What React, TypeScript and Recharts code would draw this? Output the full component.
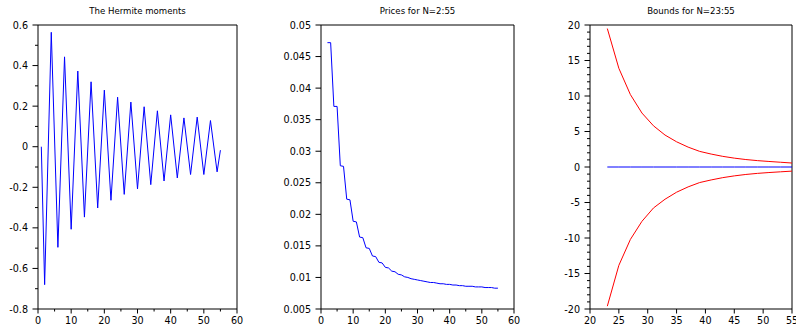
import React from "react";
import { LineChart, Line, XAxis, YAxis, ReferenceLine } from "recharts";

// --- Hermite moments (only the visible vertices) ---
const hermiteN = [1, 2, 4, 6, 8, 10, 12, 14, 16, 18, 20, 22, 24, 26, 28, 30, 32, 34, 36, 38, 40, 42, 44, 46, 48, 50, 52, 54, 55];
const hermiteVal = [
  0, -0.68, 0.564, -0.496, 0.443, -0.407, 0.373, -0.347, 0.32, -0.302, 0.279, -0.264, 0.244, -0.235,
  0.22, -0.208, 0.197, -0.187, 0.177, -0.169, 0.157, -0.154, 0.142, -0.137, 0.146, -0.137, 0.129, -0.124, -0.017,
];

// --- Prices for N = 2..55 ---
const priceN = Array.from({ length: 54 }, (_, i) => i + 2);
const priceVal = [
  0.0472, 0.0472, 0.0371, 0.0371, 0.0277, 0.0276, 0.0224, 0.0223, 0.0189, 0.0188,
  0.0164, 0.0163, 0.0147, 0.0146, 0.0134, 0.0133, 0.0124, 0.0123, 0.0116, 0.0115,
  0.011, 0.0109, 0.0105, 0.0104, 0.0101, 0.01, 0.0098, 0.0097, 0.0096, 0.0095,
  0.0094, 0.0093, 0.0092, 0.0092, 0.0091, 0.009, 0.009, 0.0089, 0.0089, 0.0088,
  0.0088, 0.0087, 0.0087, 0.0086, 0.0086, 0.0086, 0.0085, 0.0085, 0.0085, 0.0084,
  0.0084, 0.0084, 0.0083, 0.0083,
];

// --- Bounds for N = 23:2:55 ---
const boundN = [23, 25, 27, 29, 31, 33, 35, 37, 39, 41, 43, 45, 47, 49, 51, 53, 55];
const boundUpper = [19.5, 13.9, 10.2, 7.6, 5.8, 4.5, 3.55, 2.8, 2.2, 1.82, 1.5, 1.25, 1.05, 0.9, 0.78, 0.67, 0.56];
const boundLower = [-19.6, -13.85, -10.2, -7.65, -5.77, -4.54, -3.55, -2.8, -2.19, -1.82, -1.5, -1.25, -1.05, -0.9, -0.78, -0.68, -0.58];
const boundMid = boundN.map(() => 0);

// ticks
const hermiteXTicks = [0, 5, 10, 15, 20, 25, 30, 35, 40, 45, 50, 55, 60];
const hermiteYTicks = [-0.8, -0.7, -0.6, -0.5, -0.4, -0.3, -0.2, -0.1, 0, 0.1, 0.2, 0.3, 0.4, 0.5, 0.6];
const priceXTicks = [0, 5, 10, 15, 20, 25, 30, 35, 40, 45, 50, 55, 60];
const priceYTicks = [0.005, 0.01, 0.015, 0.02, 0.025, 0.03, 0.035, 0.04, 0.045, 0.05];
const boundXTicks = [20, 25, 30, 35, 40, 45, 50, 55];
const boundYTicks = Array.from({ length: 41 }, (_, i) => i - 20);

const FONT = "'DejaVu Sans', sans-serif";
const FS = 9.6;

const hermiteData = hermiteN.map((n, i) => ({ n, v: hermiteVal[i] }));
const priceData = priceN.map((n, i) => ({ n, v: priceVal[i] }));
const boundData = boundN.map((n, i) => ({ n, up: boundUpper[i], lo: boundLower[i], mid: boundMid[i] }));

const near = (a: number, b: number) => Math.abs(a - b) < 1e-9;

function makeYTick(isMajor: (v: number) => boolean, fmt: (v: number) => string) {
  return (props: any) => {
    const { x, y, payload } = props;
    const v = payload.value as number;
    if (!isMajor(v)) {
      return <line x1={x - 3} x2={x} y1={y} y2={y} stroke="#000" strokeWidth={1} />;
    }
    return (
      <g>
        <line x1={x - 5.5} x2={x} y1={y} y2={y} stroke="#000" strokeWidth={1} />
        <text x={x - 10} y={y} textAnchor="end" dominantBaseline="central" fontSize={FS} fontFamily={FONT} fill="#000">
          {fmt(v)}
        </text>
      </g>
    );
  };
}

function makeXTick(isMajor: (v: number) => boolean) {
  return (props: any) => {
    const { x, y, payload } = props;
    const v = payload.value as number;
    if (!isMajor(v)) {
      return <line x1={x} x2={x} y1={y} y2={y + 2.5} stroke="#000" strokeWidth={1} />;
    }
    return (
      <g>
        <line x1={x} x2={x} y1={y} y2={y + 4.5} stroke="#000" strokeWidth={1} />
        <text x={x} y={y + 15} textAnchor="middle" fontSize={FS} fontFamily={FONT} fill="#000">
          {String(v)}
        </text>
      </g>
    );
  };
}

const fmtNum = (v: number) => String(Math.round(v * 10000) / 10000);

function Title({ left, width, text }: { left: number; width: number; text: string }) {
  return (
    <div
      style={{
        position: "absolute",
        left,
        top: 5,
        width,
        textAlign: "center",
        fontFamily: FONT,
        fontSize: 8.6,
        lineHeight: "12px",
        color: "#000",
        whiteSpace: "nowrap",
      }}
    >
      {text}
    </div>
  );
}

const axisCommon = { tickSize: 0, tickMargin: 0, tickLine: false, interval: 0 as const, stroke: "#000", allowDataOverflow: true };

export default function App() {
  return (
    <div style={{ position: "absolute", left: 0, top: 0, width: 796, height: 325, background: "#fff", overflow: "hidden" }}>
      {/* Panel 1 */}
      <div style={{ position: "absolute", left: 0, top: 0 }}>
        <LineChart width={265} height={325} data={hermiteData} margin={{ top: 25, right: 28, bottom: 0, left: 0 }}>
          <XAxis
            dataKey="n"
            type="number"
            domain={[0, 60]}
            ticks={hermiteXTicks}
            height={16}
            {...axisCommon}
            tick={makeXTick((v) => v % 10 === 0)}
          />
          <YAxis
            type="number"
            domain={[-0.8, 0.6]}
            ticks={hermiteYTicks}
            width={38}
            {...axisCommon}
            tick={makeYTick((v) => near(Math.round(v * 10) % 2, 0), fmtNum)}
          />
          <ReferenceLine y={0.6} stroke="#000" />
          <ReferenceLine x={60} stroke="#000" />
          <Line dataKey="v" stroke="#0000ff" strokeWidth={1} dot={false} isAnimationActive={false} />
        </LineChart>
        <Title left={38} width={199} text="The Hermite moments" />
      </div>

      {/* Panel 2 */}
      <div style={{ position: "absolute", left: 265, top: 0 }}>
        <LineChart width={265} height={325} data={priceData} margin={{ top: 25, right: 16, bottom: 0, left: 0 }}>
          <XAxis
            dataKey="n"
            type="number"
            domain={[0, 60]}
            ticks={priceXTicks}
            height={16}
            {...axisCommon}
            tick={makeXTick((v) => v % 10 === 0)}
          />
          <YAxis
            type="number"
            domain={[0.005, 0.05]}
            ticks={priceYTicks}
            width={56}
            {...axisCommon}
            tick={makeYTick(() => true, fmtNum)}
          />
          <ReferenceLine y={0.05} stroke="#000" />
          <ReferenceLine x={60} stroke="#000" />
          <Line dataKey="v" stroke="#0000ff" strokeWidth={1} dot={false} isAnimationActive={false} />
        </LineChart>
        <Title left={56} width={193} text="Prices for N=2:55" />
      </div>

      {/* Panel 3 */}
      <div style={{ position: "absolute", left: 530, top: 0 }}>
        <LineChart width={266} height={325} data={boundData} margin={{ top: 25, right: 4, bottom: 0, left: 0 }}>
          <XAxis
            dataKey="n"
            type="number"
            domain={[20, 55]}
            ticks={boundXTicks}
            height={16}
            {...axisCommon}
            tick={makeXTick(() => true)}
          />
          <YAxis
            type="number"
            domain={[-20, 20]}
            ticks={boundYTicks}
            width={60}
            {...axisCommon}
            tick={makeYTick((v) => v % 5 === 0, (v) => String(v))}
          />
          <ReferenceLine y={20} stroke="#000" />
          <ReferenceLine x={55} stroke="#000" />
          <Line dataKey="mid" stroke="#0000ff" strokeWidth={1} dot={false} isAnimationActive={false} />
          <Line dataKey="up" stroke="#ff0000" strokeWidth={1} dot={false} isAnimationActive={false} />
          <Line dataKey="lo" stroke="#ff0000" strokeWidth={1} dot={false} isAnimationActive={false} />
        </LineChart>
        <Title left={60} width={202} text="Bounds for N=23:55" />
      </div>
    </div>
  );
}
